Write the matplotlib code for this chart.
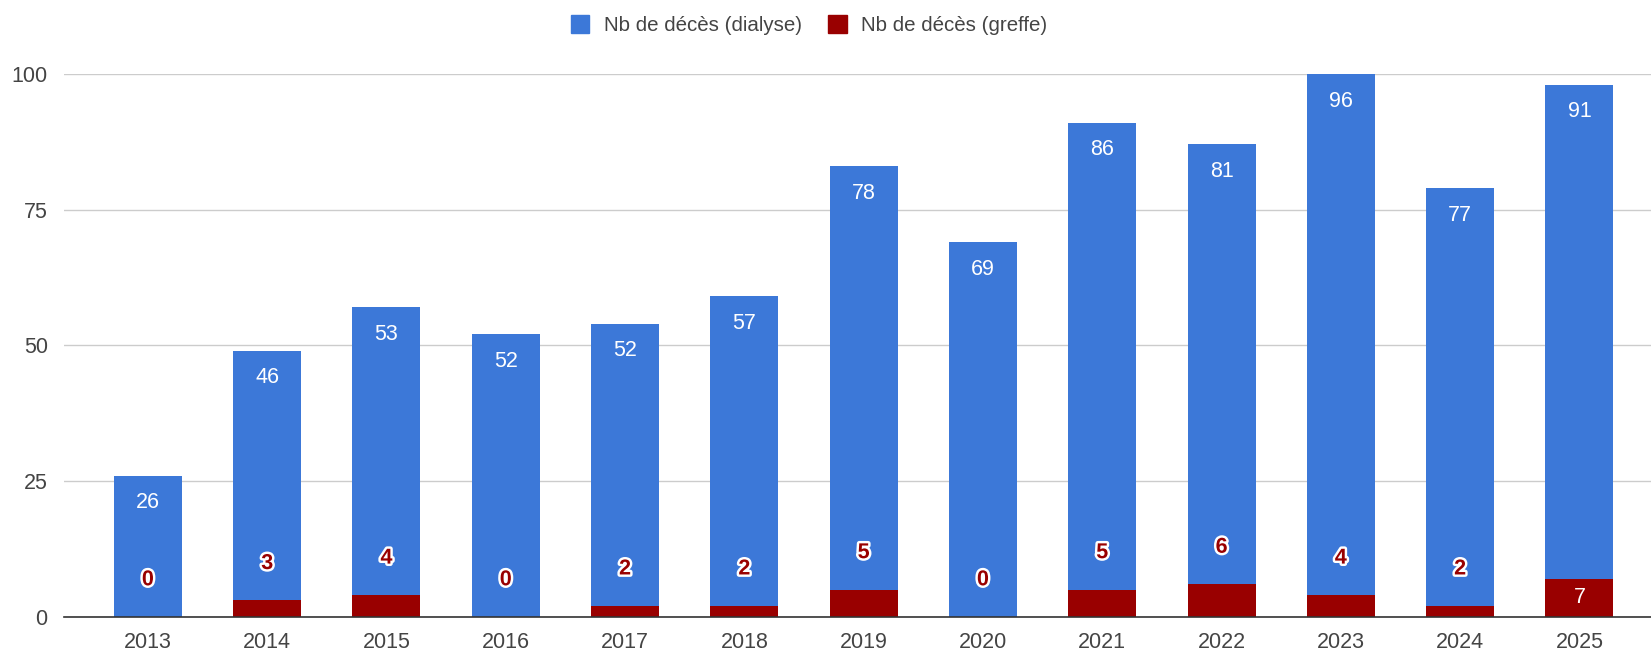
import numpy as np
import matplotlib.pyplot as plt
import matplotlib.patheffects as pe
from matplotlib.patches import Patch

# Data
years = ["2013", "2014", "2015", "2016", "2017", "2018", "2019",
         "2020", "2021", "2022", "2023", "2024", "2025"]
dialyse = [26, 46, 53, 52, 52, 57, 78, 69, 86, 81, 96, 77, 91]
greffe = [0, 3, 4, 0, 2, 2, 5, 0, 5, 6, 4, 2, 7]

blue = "#3c78d8"
red = "#990000"
text_grey = "#444444"

plt.rcParams["font.family"] = ["Liberation Sans", "DejaVu Sans"]

fig = plt.figure(figsize=(16.51, 6.54), dpi=100)
ax = fig.add_axes([0.039, 0.057, 0.961, 0.830])

x = np.arange(len(years))
greffe = np.array(greffe)
dialyse = np.array(dialyse)
width = 0.57

ax.bar(x, greffe, width, color=red, zorder=2)
ax.bar(x, dialyse, width, bottom=greffe, color=blue, zorder=2)

# value labels: dialyse at the top of the bar, greffe above (or inside) its segment
for xi, g, d in zip(x, greffe, dialyse):
    ax.text(xi, g + d - 5.0, str(d), ha="center", va="center",
            color="white", fontsize=15.5, zorder=3)
    if g >= 6.5:
        ax.text(xi, g / 2, str(g), ha="center", va="center",
                color="white", fontsize=15.5, zorder=3)
    else:
        ax.text(xi, g + 6.8, str(g), ha="center", va="center",
                color=red, fontsize=15.5, fontweight="bold", zorder=3,
                path_effects=[pe.withStroke(linewidth=3.5, foreground="white")])

ax.set_xlim(-0.7, 12.6)
ax.set_ylim(0, 100)
ax.set_yticks([0, 25, 50, 75, 100])
ax.set_xticks(x)
ax.set_xticklabels(years)
ax.tick_params(axis="both", length=0, labelsize=15.5, colors=text_grey)
ax.tick_params(axis="y", pad=12)
ax.tick_params(axis="x", pad=11)
ax.grid(axis="y", color="#cccccc", linewidth=1, zorder=0)
for side in ["top", "right", "left"]:
    ax.spines[side].set_visible(False)
ax.spines["bottom"].set_color("#333333")
ax.spines["bottom"].set_linewidth(1.2)
ax.spines["bottom"].set_zorder(4)

handles = [Patch(color=blue, label="Nb de décès (dialyse)"),
           Patch(color=red, label="Nb de décès (greffe)")]
fig.legend(handles=handles, loc="center", bbox_to_anchor=(0.490, 0.962),
           ncol=2, frameon=False, fontsize=14.8, handlelength=0.9,
           handleheight=1.0, columnspacing=1.3, handletextpad=0.7,
           labelcolor=text_grey)

fig.savefig("out.png", dpi=100)
